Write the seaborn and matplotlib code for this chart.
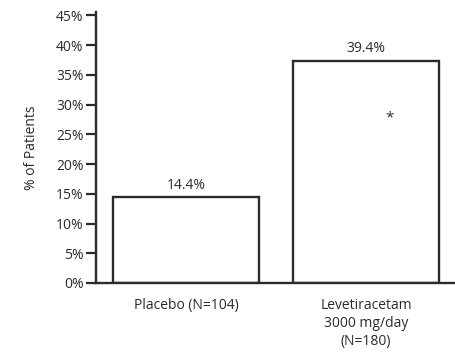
import matplotlib
matplotlib.use("Agg")
import matplotlib.pyplot as plt
import seaborn as sns
import pandas as pd

groups = ["Placebo (N=104)", "Levetiracetam\n3000 mg/day\n(N=180)"]
bar_heights = [14.4, 37.3]
bar_labels = ["14.4%", "39.4%"]
y_ticks = [0, 5, 10, 15, 20, 25, 30, 35, 40, 45]

ink = "#2b2b2b"

sns.set_style("ticks")
plt.rcParams["font.family"] = ["Open Sans", "DejaVu Sans"]

df = pd.DataFrame({"group": groups, "pct": bar_heights})

fig = plt.figure(figsize=(4.56, 3.63), dpi=100)
ax = fig.add_axes([0.2105, 0.2204, 0.7895, 0.747])

sns.barplot(data=df, x="group", y="pct", color="white", edgecolor=ink,
            linewidth=1.7, width=0.81, ax=ax)

for i, (h, lab) in enumerate(zip(bar_heights, bar_labels)):
    ax.text(i, h + 0.8, lab, ha="center", va="bottom", fontsize=10, color=ink)

# significance marker inside the active-treatment bar
ax.text(1.128, 27.7, "*", ha="center", va="center", fontsize=11, color=ink)

ax.set_xlim(-0.5, 1.5)
ax.set_ylim(0, 45.6)
ax.set_yticks(y_ticks)
ax.set_yticklabels([f"{t}%" for t in y_ticks])
ax.set_xlabel("")
ax.set_ylabel("% of Patients", fontsize=10, color=ink, labelpad=12)

ax.tick_params(axis="y", length=7, width=1.6, color=ink, labelsize=10,
               labelcolor=ink, pad=2)
ax.tick_params(axis="x", length=0, labelsize=10, labelcolor=ink, pad=11)
for lab in ax.get_xticklabels():
    lab.set_linespacing(1.25)

sns.despine(ax=ax, top=True, right=True)
for side in ["left", "bottom"]:
    ax.spines[side].set_linewidth(1.7)
    ax.spines[side].set_color(ink)

fig.savefig("out.png", dpi=100)
